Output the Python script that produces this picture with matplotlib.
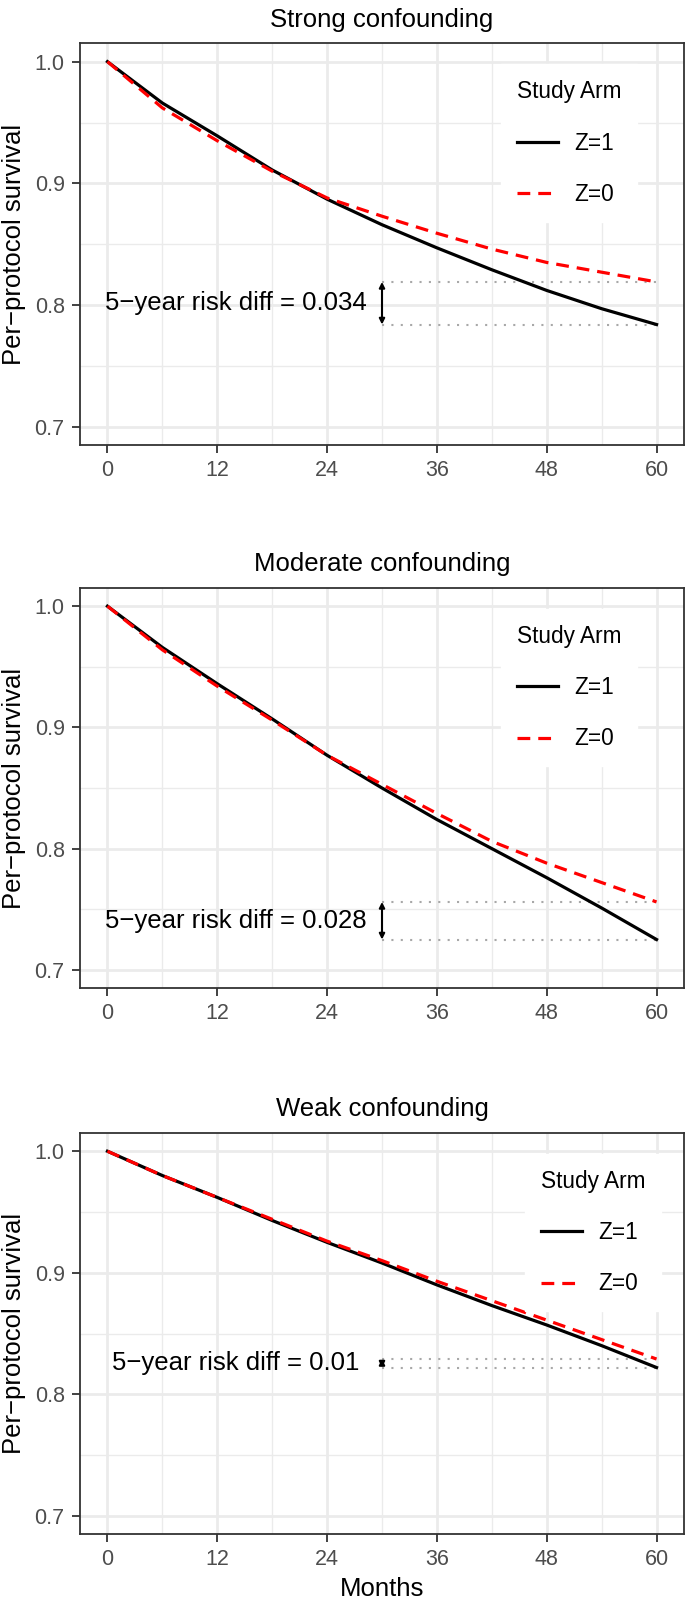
import matplotlib
matplotlib.use("Agg")
import matplotlib.pyplot as plt

# months on the x axis
months = [0, 6, 12, 18, 24, 30, 36, 42, 48, 54, 60]

# Strong confounding
strong_z1 = [1.0, 0.966, 0.939, 0.911, 0.887, 0.866, 0.847, 0.829, 0.812, 0.797, 0.784]
strong_z0 = [1.0, 0.962, 0.935, 0.910, 0.888, 0.873, 0.859, 0.846, 0.835, 0.827, 0.819]

# Moderate confounding
moderate_z1 = [1.0, 0.966, 0.936, 0.907, 0.877, 0.850, 0.824, 0.800, 0.776, 0.751, 0.725]
moderate_z0 = [1.0, 0.964, 0.934, 0.906, 0.877, 0.853, 0.829, 0.806, 0.788, 0.772, 0.756]

# Weak confounding
weak_z1 = [1.0, 0.980, 0.962, 0.943, 0.925, 0.908, 0.890, 0.873, 0.857, 0.840, 0.822]
weak_z0 = [1.0, 0.980, 0.962, 0.944, 0.926, 0.910, 0.893, 0.877, 0.861, 0.845, 0.829]

titles = ["Strong confounding", "Moderate confounding", "Weak confounding"]
risk_labels = ["5\u2212year risk diff = 0.034", "5\u2212year risk diff = 0.028",
               "5\u2212year risk diff = 0.01"]
x_ticks = [0, 12, 24, 36, 48, 60]
y_ticks = [0.7, 0.8, 0.9, 1.0]

panels = [(strong_z1, strong_z0), (moderate_z1, moderate_z0), (weak_z1, weak_z0)]

W, H = 685, 1599
fig = plt.figure(figsize=(W / 100, H / 100), dpi=100)

# axes boxes in pixels: (top, bottom)
boxes = [(43.4, 445), (588, 988), (1133, 1534)]
left_px, right_px = 80, 684
legend_x = [0.697, 0.697, 0.737]

font = ["Liberation Sans", "DejaVu Sans"]

for i, (z1, z0) in enumerate(panels):
    top, bottom = boxes[i]
    ax = fig.add_axes([left_px / W, 1 - bottom / H, (right_px - left_px) / W, (bottom - top) / H])

    ax.set_xlim(-3, 63)
    ax.set_ylim(0.685, 1.015)
    ax.set_xticks(x_ticks)
    ax.set_xticks([6, 18, 30, 42, 54], minor=True)
    ax.set_yticks(y_ticks)
    ax.set_yticks([0.75, 0.85, 0.95], minor=True)
    ax.set_yticklabels(["0.7", "0.8", "0.9", "1.0"])
    ax.grid(which="major", color="#EBEBEB", linewidth=2.0, zorder=0)
    ax.grid(which="minor", color="#EBEBEB", linewidth=1.0, zorder=0)
    ax.tick_params(which="major", length=6, width=1.3, color="#333333",
                   labelcolor="#4D4D4D", labelsize=15.5, pad=5)
    ax.tick_params(which="minor", length=0)
    for lab in ax.get_xticklabels() + ax.get_yticklabels():
        lab.set_family(font)
    for s in ax.spines.values():
        s.set_color("#333333")
        s.set_linewidth(1.3)
    ax.set_axisbelow(True)

    ax.plot(months, z1, color="black", linewidth=2.3, label="Z=1", zorder=3)
    ax.plot(months, z0, color="#FF0000", linewidth=2.3, linestyle=(0, (4, 2.5)),
            label="Z=0", zorder=4)

    # risk difference annotation
    hi, lo = z0[-1], z1[-1]
    ax.plot([30, 60], [hi, hi], color="#A8A8A8", linestyle=(0, (1, 3.5)), linewidth=1.5, zorder=2)
    ax.plot([30, 60], [lo, lo], color="#A8A8A8", linestyle=(0, (1, 3.5)), linewidth=1.5, zorder=2)
    ax.annotate("", xy=(30, hi), xytext=(30, lo),
                arrowprops=dict(arrowstyle="<|-|>", color="black", lw=1.5,
                                mutation_scale=8, shrinkA=0, shrinkB=0), zorder=5)
    ax.text(14, (hi + lo) / 2, risk_labels[i], ha="center", va="center",
            fontsize=18.5, family=font, color="black")

    ax.set_title(titles[i], fontsize=18.5, family=font, pad=12)
    ax.set_ylabel("Per\u2212protocol survival", fontsize=18.5, family=font, labelpad=6)
    if i == 2:
        ax.set_xlabel("Months", fontsize=18.5, family=font, labelpad=5)

    leg = ax.legend(loc="upper left", bbox_to_anchor=(legend_x[i], 0.9475),
                    title="Study Arm", frameon=True, fancybox=False,
                    handlelength=1.8, handletextpad=0.75, labelspacing=1.25,
                    borderpad=0.7, borderaxespad=0,
                    prop={"family": font, "size": 16.3})
    leg.get_title().set_family(font)
    leg.get_title().set_fontsize(16.3)
    leg._legend_box.align = "left"
    leg.get_frame().set_facecolor("white")
    leg.get_frame().set_edgecolor("white")
    leg.get_frame().set_alpha(1)

fig.savefig("out.png", dpi=100)
